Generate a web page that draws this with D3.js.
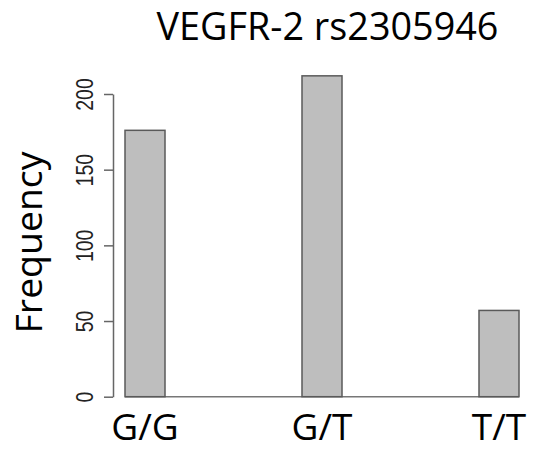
<!DOCTYPE html>
<html>
<head>
<meta charset="utf-8">
<script src="https://cdn.jsdelivr.net/npm/d3@7"></script>
<style>
  html, body { margin: 0; padding: 0; background: #fff; }
  svg { display: block; }
</style>
</head>
<body>
<svg id="chart" width="533" height="451"></svg>
<script>
const title = "VEGFR-2 rs2305946";
const yLabel = "Frequency";
const categories = ["G/G", "G/T", "T/T"];
const frequencies = [176, 212, 57];
const yTicks = [0, 50, 100, 150, 200];

const svg = d3.select("#chart");
const sansFont = "'Open Sans', 'Noto Sans', sans-serif";
const tickFont = "Arial, 'Liberation Sans', sans-serif";

const y = d3.scaleLinear().domain([0, 200]).range([396.7, 94]);
const x = d3.scaleBand().domain(categories)
  .range([125, 519]).paddingInner(0.774).paddingOuter(0);

// fit text to a target width
function fit(sel, target) {
  const n = sel.node();
  const fs = parseFloat(sel.attr("font-size"));
  const w = n.getComputedTextLength();
  if (w > 0) sel.attr("font-size", fs * target / w);
}

// baseline
svg.append("line")
  .attr("x1", x.range()[0]).attr("x2", x.range()[1])
  .attr("y1", y(0)).attr("y2", y(0))
  .attr("stroke", "#777").attr("stroke-width", 1.5);

// bars
svg.append("g").selectAll("rect")
  .data(categories.map((c, i) => ({c, v: frequencies[i]})))
  .join("rect")
  .attr("x", d => x(d.c))
  .attr("width", x.bandwidth())
  .attr("y", d => y(d.v))
  .attr("height", d => y(0) - y(d.v))
  .attr("fill", "#bebebe")
  .attr("stroke", "#5a5a5a")
  .attr("stroke-width", 1.5);

// y axis
const axisX = 113;
const gy = svg.append("g")
  .attr("transform", `translate(${axisX},0)`)
  .call(d3.axisLeft(y).tickValues(yTicks).tickSize(9).tickSizeOuter(0).tickPadding(0));
gy.select(".domain").attr("stroke", "#666").attr("stroke-width", 1.5);
gy.selectAll(".tick line").attr("stroke", "#666").attr("stroke-width", 1.5);
gy.selectAll(".tick text")
  .attr("x", null).attr("dy", null)
  .attr("transform", "translate(-29,0) rotate(-90) scale(1,1.25)")
  .attr("text-anchor", "middle")
  .attr("dy", "0.36em")
  .attr("font-family", tickFont)
  .attr("font-size", 19.5)
  .attr("fill", "#222");

// category labels
svg.append("g").selectAll("text")
  .data(categories)
  .join("text")
  .attr("x", d => x(d) + x.bandwidth() / 2)
  .attr("y", 439.5)
  .attr("text-anchor", "middle")
  .attr("font-family", sansFont)
  .attr("font-size", 37)
  .attr("fill", "#000")
  .text(d => d);

// title
const t = svg.append("text")
  .attr("x", 327.5).attr("y", 40)
  .attr("text-anchor", "middle")
  .attr("font-family", sansFont)
  .attr("font-size", 38)
  .attr("fill", "#000")
  .text(title);
fit(t, 342);

// y label
const yl = svg.append("text")
  .attr("transform", "translate(41.5,242.5) rotate(-90)")
  .attr("text-anchor", "middle")
  .attr("font-family", sansFont)
  .attr("font-size", 35)
  .attr("fill", "#000")
  .text(yLabel);
fit(yl, 182);
</script>
</body>
</html>
